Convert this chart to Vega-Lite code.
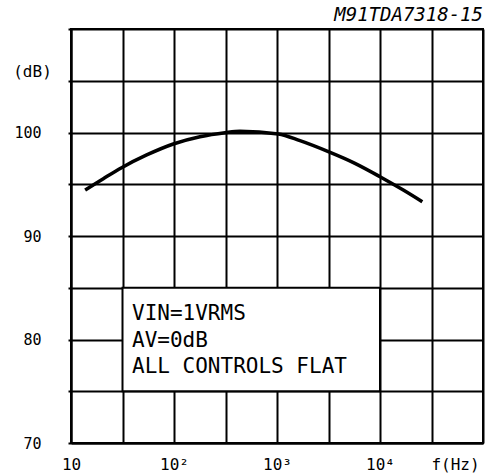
{
  "$schema": "https://vega.github.io/schema/vega-lite/v6.json",
  "width": 412,
  "height": 414,
  "autosize": "none",
  "padding": {"left": 71, "top": 29, "right": 8, "bottom": 33},
  "background": "white",
  "title": {
    "text": "M91TDA7318-15",
    "anchor": "end",
    "font": "DejaVu Sans Mono",
    "fontStyle": "italic",
    "fontSize": 19,
    "fontWeight": "normal",
    "color": "black",
    "offset": 3
  },
  "config": {
    "view": {"stroke": "black", "strokeWidth": 2},
    "axis": {
      "gridColor": "black",
      "gridWidth": 2,
      "gridOpacity": 1,
      "domainColor": "black",
      "domainWidth": 2,
      "labelColor": "black",
      "labelFont": "DejaVu Sans Mono",
      "labelFontSize": 15,
      "titleColor": "black",
      "titleFont": "DejaVu Sans Mono",
      "titleFontSize": 16,
      "titleFontWeight": "normal"
    }
  },
  "data": {
    "values": [
      {"f": 13.7, "db": 94.44},
      {"f": 20.6, "db": 95.54},
      {"f": 31.0, "db": 96.6},
      {"f": 54.3, "db": 97.83},
      {"f": 98.4, "db": 98.89},
      {"f": 178.6, "db": 99.59},
      {"f": 312.6, "db": 99.98},
      {"f": 437, "db": 100.12},
      {"f": 1030, "db": 99.86},
      {"f": 1671, "db": 99.21},
      {"f": 3150, "db": 98.15},
      {"f": 5710, "db": 97.02},
      {"f": 10000, "db": 95.73},
      {"f": 16830, "db": 94.44},
      {"f": 25760, "db": 93.31}
    ]
  },
  "layer": [
    {
      "mark": {"type": "line", "color": "black", "strokeWidth": 3.5, "interpolate": "monotone"},
      "encoding": {
        "x": {
          "field": "f",
          "type": "quantitative",
          "scale": {"type": "log", "domain": [10, 100000], "nice": false},
          "axis": {
            "values": [10, 31.6228, 100, 316.228, 1000, 3162.28, 10000, 31622.8, 100000],
            "labelExpr": "datum.value == 10 ? '10' : datum.value == 100 ? '10²' : datum.value == 1000 ? '10³' : datum.value == 10000 ? '10⁴' : ''",
            "labelOverlap": false,
            "labelFlush": false,
            "labelBound": false,
            "labelFontSize": 16,
            "ticks": false,
            "labelPadding": 13,
            "title": "f(Hz)",
            "titleX": 384,
            "titleY": 21,
            "titleAlign": "center",
            "titleBaseline": "middle"
          }
        },
        "y": {
          "field": "db",
          "type": "quantitative",
          "scale": {"domain": [70, 110], "nice": false, "zero": false},
          "axis": {
            "values": [70, 75, 80, 85, 90, 95, 100, 105, 110],
            "labelExpr": "(datum.value % 10 == 0 && datum.value < 110) ? datum.label : ''",
            "ticks": true,
            "tickSize": 3,
            "tickWidth": 2,
            "tickColor": "black",
            "labelPadding": 27,
            "title": "(dB)",
            "titleAngle": 0,
            "titleX": -39,
            "titleY": 42,
            "titleAlign": "center",
            "titleBaseline": "middle"
          }
        }
      }
    },
    {
      "data": {"values": [{}]},
      "mark": {"type": "rect", "fill": "white", "stroke": "black", "strokeWidth": 2},
      "encoding": {
        "x": {"datum": 31.6228, "type": "quantitative"},
        "x2": {"datum": 10000},
        "y": {"datum": 85, "type": "quantitative"},
        "y2": {"datum": 75}
      }
    },
    {
      "data": {"values": [{}]},
      "mark": {
        "type": "text",
        "align": "left",
        "baseline": "alphabetic",
        "font": "DejaVu Sans Mono",
        "fontSize": 21,
        "lineHeight": 26.5,
        "color": "black"
      },
      "encoding": {
        "x": {"datum": 39.1, "type": "quantitative"},
        "y": {"datum": 81.88, "type": "quantitative"},
        "text": {"value": ["VIN=1VRMS", "AV=0dB", "ALL CONTROLS FLAT"]}
      }
    }
  ]
}
